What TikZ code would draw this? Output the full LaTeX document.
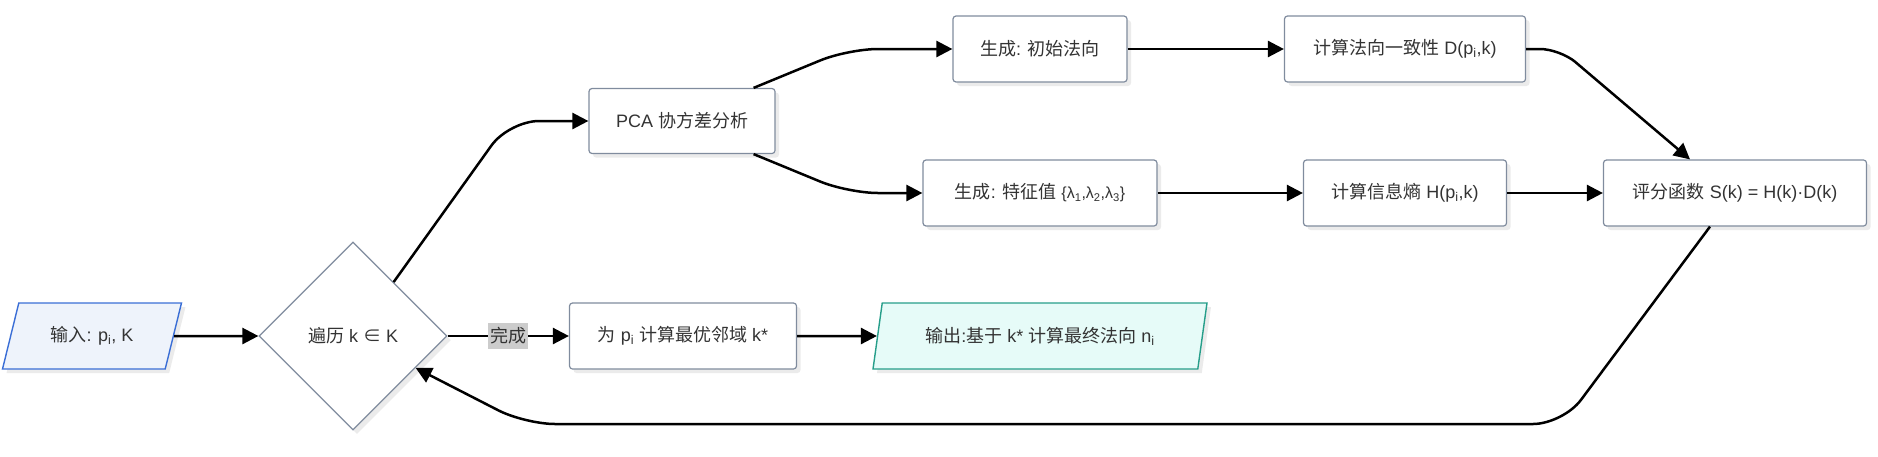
\documentclass[tikz,border=0pt]{standalone}
\usepackage{fontspec}
\setmainfont{Liberation Sans}
\newfontfamily\cjk{Noto Sans CJK SC}
\usetikzlibrary{arrows.meta}
\usetikzlibrary{shapes.geometric}
\usetikzlibrary{shadows}
\usetikzlibrary{calc}
\definecolor{edgegray}{RGB}{128,140,158}
\definecolor{txtgray}{RGB}{51,51,51}
\definecolor{inblue}{RGB}{58,110,214}
\definecolor{infill}{RGB}{238,243,251}
\definecolor{outteal}{RGB}{38,158,138}
\definecolor{outfill}{RGB}{230,251,248}
\definecolor{labelbg}{RGB}{204,204,204}
\begin{document}
\begin{tikzpicture}[x=1pt,y=-1pt,
  every node/.style={font=\fontsize{18}{22}\selectfont,text=txtgray},
  shade/.style={drop shadow={shadow xshift=4pt,shadow yshift=-4pt,fill=black,opacity=.08}},
  box/.style={draw=edgegray,fill=white,line width=1.2pt,rounded corners=3pt,minimum height=66pt,inner sep=0pt,shade},
  inbox/.style={trapezium,trapezium left angle=64,trapezium right angle=116,trapezium stretches=true,
    minimum width=179pt,minimum height=66pt,inner sep=0pt,draw=inblue,fill=infill,line width=1.4pt,shade},
  outbox/.style={trapezium,trapezium left angle=70,trapezium right angle=110,trapezium stretches=true,
    minimum width=334pt,minimum height=66pt,inner sep=0pt,draw=outteal,fill=outfill,line width=1.4pt,shade},
  choice/.style={diamond,aspect=1,minimum width=188pt,minimum height=188pt,inner sep=0pt,draw=edgegray,fill=white,line width=1.2pt,shade},
  flow/.style={draw=black,line width=2.5pt,-{Triangle[length=16pt,width=16pt]},rounded corners=30pt},
  edgelabel/.style={fill=labelbg,sharp corners,inner xsep=2pt,inner ysep=5pt}]
  \useasboundingbox (0,0) rectangle (1878,456);
  % nodes
  \node[inbox] (in) at (92,336) {{\cjk 输入}: p\textsubscript{i}, K};
  \node[choice] (loop) at (353,336) {{\cjk 遍历} k {\cjk ∈} K};
  \node[box,minimum width=186pt,minimum height=65pt] (pca) at (682,121) {PCA {\cjk 协方差分析}};
  \node[box,minimum width=174pt] (init) at (1040,49) {{\cjk 生成}: {\cjk 初始法向}};
  \node[box,minimum width=234pt] (eig) at (1040,193) {{\cjk 生成}: {\cjk 特征值} {\fontsize{16}{20}\selectfont\{λ\textsubscript{1},λ\textsubscript{2},λ\textsubscript{3}\}}};
  \node[box,minimum width=241pt] (consis) at (1405,49) {{\cjk 计算法向一致性} D(p\textsubscript{i},k)};
  \node[box,minimum width=203pt] (entropy) at (1405,193) {{\cjk 计算信息熵} H(p\textsubscript{i},k)};
  \node[box,minimum width=263pt] (score) at (1735,193) {{\cjk 评分函数} S(k) = H(k)·D(k)};
  \node[box,minimum width=227pt] (best) at (683,336) {{\cjk 为} p\textsubscript{i} {\cjk 计算最优邻域} k*};
  \node[outbox] (out) at (1040,336) {{\cjk 输出}:{\cjk 基于} k* {\cjk 计算最终法向} n\textsubscript{i}};
  % connectors
  \draw[flow] (in) -- (loop);
  \draw[flow] (loop.53) -- (509,121) -- (pca.west);
  \draw[flow] ($(pca.north east)+(-22,0)$) -- (848,49) -- (init.west);
  \draw[flow] ($(pca.south east)+(-22,0)$) -- (848,193) -- (eig.west);
  \draw[flow] (init) -- (consis);
  \draw[flow] (eig) -- (entropy);
  \draw[flow,rounded corners=20pt] (consis.east) -- (1560,49) -- ($(score.north)+(-45,0)$);
  \draw[flow] (entropy) -- (score);
  \draw[flow] ($(score.south)+(-25,0)$) -- (1563,424) -- (525,424) -- (loop.-27);
  \draw[flow] (loop.east) -- node[edgelabel]{\cjk 完成} (best.west);
  \draw[flow] (best) -- (out);
\end{tikzpicture}
\end{document}
